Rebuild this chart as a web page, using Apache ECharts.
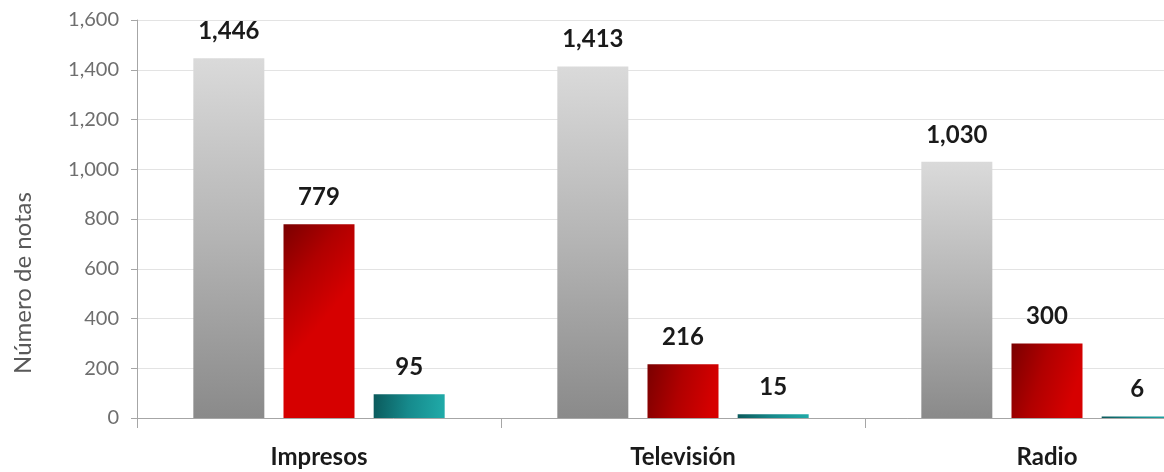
<!DOCTYPE html>
<html>
<head>
<meta charset="utf-8">
<script src="https://cdn.jsdelivr.net/npm/echarts@6/dist/echarts.min.js"></script>
<style>
html,body{margin:0;padding:0;background:#fff;}
#chart{width:1164px;height:472px;}
</style>
</head>
<body>
<div id="chart"></div>
<script>
const categories = ['Impresos', 'Televisión', 'Radio'];
const serieTotal = [1446, 1413, 1030];
const serieRoja = [779, 216, 300];
const serieVerde = [95, 15, 6];
const yTicks = [0, 200, 400, 600, 800, 1000, 1200, 1400, 1600];

const chart = echarts.init(document.getElementById('chart'));

function grad(x2, y2, stops) {
  return new echarts.graphic.LinearGradient(0, 0, x2, y2, stops.map((c, i) => ({offset: i / (stops.length - 1), color: c})));
}
const fmt = v => v.toLocaleString('en-US');
const labelStyle = {
  show: true, position: 'top', distance: 15,
  fontFamily: 'Lato', fontWeight: 'bold', fontSize: 24, color: '#1a1a1a',
  formatter: p => fmt(p.value)
};

chart.setOption({
  animation: false,
  grid: {left: 137, top: 20, bottom: 54, right: -65, containLabel: false, outerBoundsMode: 'none'},
  xAxis: {
    type: 'category',
    data: categories,
    axisLine: {lineStyle: {color: '#a6a6a6', width: 1}},
    axisTick: {show: true, length: 10, lineStyle: {color: '#a6a6a6'}},
    axisLabel: {margin: 27, fontFamily: 'Lato', fontWeight: 'bold', fontSize: 24, color: '#1a1a1a'}
  },
  yAxis: {
    type: 'value',
    min: yTicks[0], max: yTicks[yTicks.length - 1], interval: 200,
    axisLine: {show: true, lineStyle: {color: '#a6a6a6'}},
    axisTick: {show: true, length: 6, lineStyle: {color: '#a6a6a6'}},
    splitLine: {lineStyle: {color: '#e3e3e3'}},
    axisLabel: {margin: 18, fontFamily: 'Lato', fontSize: 20, color: '#6e6e6e', formatter: v => fmt(v)}
  },
  graphic: [{
    type: 'text', x: 23, y: 283, rotation: Math.PI / 2,
    style: {text: 'Número de notas', fontFamily: 'Lato', fontSize: 24, fill: '#595959', align: 'center', verticalAlign: 'middle'}
  }],
  series: [
    {
      name: 'Total', type: 'bar', data: serieTotal, barWidth: 71, barGap: '27%',
      itemStyle: {color: grad(0, 1, ['#dadada', '#b4b4b4', '#8a8a8a'])},
      label: labelStyle
    },
    {
      name: 'Serie roja', type: 'bar', data: serieRoja, barWidth: 71, barGap: '27%',
      itemStyle: {color: grad(1, 0.3, ['#7a0000', '#b00000', '#d60000'])},
      label: labelStyle
    },
    {
      name: 'Serie verde', type: 'bar', data: serieVerde, barWidth: 71, barGap: '27%',
      itemStyle: {color: grad(1, 0.2, ['#0b5a5c', '#168a8c', '#20aaa8'])},
      label: labelStyle
    }
  ]
});
</script>
</body>
</html>
